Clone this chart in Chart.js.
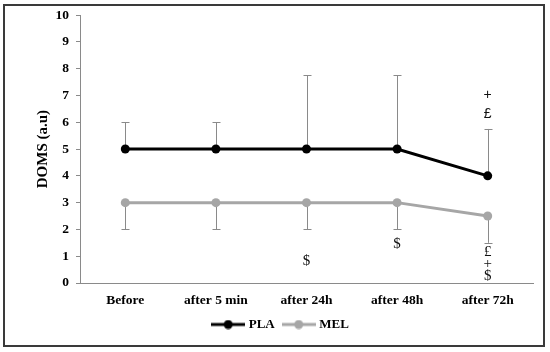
<!DOCTYPE html>
<html>
<head>
<meta charset="utf-8">
<script src="https://cdn.jsdelivr.net/npm/chart.js@4"></script>
<style>
  body { margin: 0; background: #fff; }
  #wrap { width: 550px; height: 352px; }
</style>
</head>
<body>
<div id="wrap"><canvas id="chart" width="550" height="352"></canvas></div>
<script>
// data
const categories = ["Before", "after 5 min", "after 24h", "after 48h", "after 72h"];
const plaValues = [5, 5, 5, 5, 4];
const plaUpper = [6, 6, 7.75, 7.75, 5.75];
const melValues = [3, 3, 3, 3, 2.5];
const melLower = [2, 2, 2, 2, 1.5];
const yTicks = [0, 1, 2, 3, 4, 5, 6, 7, 8, 9, 10];

// significance marks (category, value on y scale)
const markText = ["$", "$", "+", "£", "£", "+", "$"];
const markCat = ["after 24h", "after 48h", "after 72h", "after 72h", "after 72h", "after 72h", "after 72h"];
const markValue = [0.82, 1.45, 7.03, 6.32, 1.15, 0.7, 0.27];
const markSans = [false, false, true, true, false, false, false];

const serif = "'Liberation Serif', 'Times New Roman', serif";

function legendIcon(color) {
  const c = document.createElement("canvas");
  c.width = 34; c.height = 10;
  const g = c.getContext("2d");
  g.strokeStyle = color; g.lineWidth = 3;
  g.beginPath(); g.moveTo(0, 5); g.lineTo(34, 5); g.stroke();
  g.fillStyle = color;
  g.beginPath(); g.arc(17, 5, 4.5, 0, Math.PI * 2); g.fill();
  return c;
}

const frame = {
  id: "frame",
  afterDraw(chart) {
    const ctx = chart.ctx;
    ctx.save();
    ctx.strokeStyle = "#3a3a3a";
    ctx.lineWidth = 2;
    ctx.strokeRect(4, 5, 540, 341);
    ctx.restore();
  }
};

const errorBars = {
  id: "errorBars",
  beforeDatasetsDraw(chart) {
    const ctx = chart.ctx;
    const x = chart.scales.x, y = chart.scales.y;
    ctx.save();
    ctx.strokeStyle = "#8a8a8a";
    ctx.lineWidth = 1;
    const bar = (i, from, to) => {
      const px = Math.round(x.getPixelForValue(i)) + 0.5;
      const y0 = y.getPixelForValue(from), y1 = y.getPixelForValue(to);
      ctx.beginPath();
      ctx.moveTo(px, y0); ctx.lineTo(px, y1);
      ctx.moveTo(px - 4, Math.round(y1) + 0.5); ctx.lineTo(px + 4, Math.round(y1) + 0.5);
      ctx.stroke();
    };
    categories.forEach((c, i) => {
      bar(i, plaValues[i], plaUpper[i]);
      bar(i, melValues[i], melLower[i]);
    });
    ctx.restore();
  }
};

const marks = {
  id: "marks",
  afterDatasetsDraw(chart) {
    const ctx = chart.ctx;
    const x = chart.scales.x, y = chart.scales.y;
    ctx.save();
    ctx.fillStyle = "#111";
    ctx.textAlign = "center";
    ctx.textBaseline = "middle";
    markText.forEach((t, i) => {
      ctx.font = markSans[i] ? "14px 'Liberation Sans', sans-serif" : "15px " + serif;
      const px = x.getPixelForValue(categories.indexOf(markCat[i]));
      ctx.fillText(t, px, y.getPixelForValue(markValue[i]));
    });
    ctx.restore();
  }
};

new Chart(document.getElementById("chart"), {
  type: "line",
  data: {
    labels: categories,
    datasets: [
      {
        label: "PLA",
        data: plaValues,
        borderColor: "#000",
        backgroundColor: "#000",
        borderWidth: 3,
        pointRadius: 4.5,
        pointBackgroundColor: "#000",
        pointBorderWidth: 0
      },
      {
        label: "MEL",
        data: melValues,
        borderColor: "#a6a6a6",
        backgroundColor: "#a6a6a6",
        borderWidth: 3,
        pointRadius: 4.5,
        pointBackgroundColor: "#a6a6a6",
        pointBorderWidth: 0
      }
    ]
  },
  options: {
    responsive: false,
    animation: false,
    layout: { padding: { left: 30, right: 17, top: 15, bottom: 11 } },
    plugins: {
      tooltip: { enabled: false },
      legend: {
        position: "bottom",
        labels: {
          usePointStyle: true,
          pointStyleWidth: 28,
          padding: 10,
          color: "#000",
          font: { family: serif, size: 13, weight: "bold" },
          generateLabels(chart) {
            return chart.data.datasets.map((ds, i) => ({
              text: ds.label,
              pointStyle: legendIcon(ds.borderColor),
              fillStyle: ds.borderColor,
              strokeStyle: ds.borderColor,
              lineWidth: 0,
              fontColor: "#000",
              datasetIndex: i
            }));
          }
        }
      }
    },
    scales: {
      x: {
        offset: true,
        grid: { display: false, drawTicks: false },
        border: { display: true, color: "#8a8a8a", width: 1 },
        ticks: {
          color: "#000",
          padding: 9,
          maxRotation: 0,
          font: { family: serif, size: 13.5, weight: "bold" }
        },
        afterFit(scale) { scale.height = 25; }
      },
      y: {
        min: 0,
        max: 10,
        afterBuildTicks(scale) { scale.ticks = yTicks.map(v => ({ value: v })); },
        grid: { drawOnChartArea: false, drawTicks: true, tickLength: 4, color: "#8a8a8a" },
        border: { display: true, color: "#8a8a8a", width: 1 },
        ticks: {
          color: "#000",
          padding: 7,
          font: { family: serif, size: 13.5, weight: "bold" }
        },
        title: {
          display: true,
          text: "DOMS (a.u)",
          color: "#000",
          padding: { top: 4, bottom: 0 },
          font: { family: serif, size: 15, weight: "bold" }
        },
        afterFit(scale) { scale.width = 50; }
      }
    }
  },
  plugins: [frame, errorBars, marks]
});
</script>
</body>
</html>
